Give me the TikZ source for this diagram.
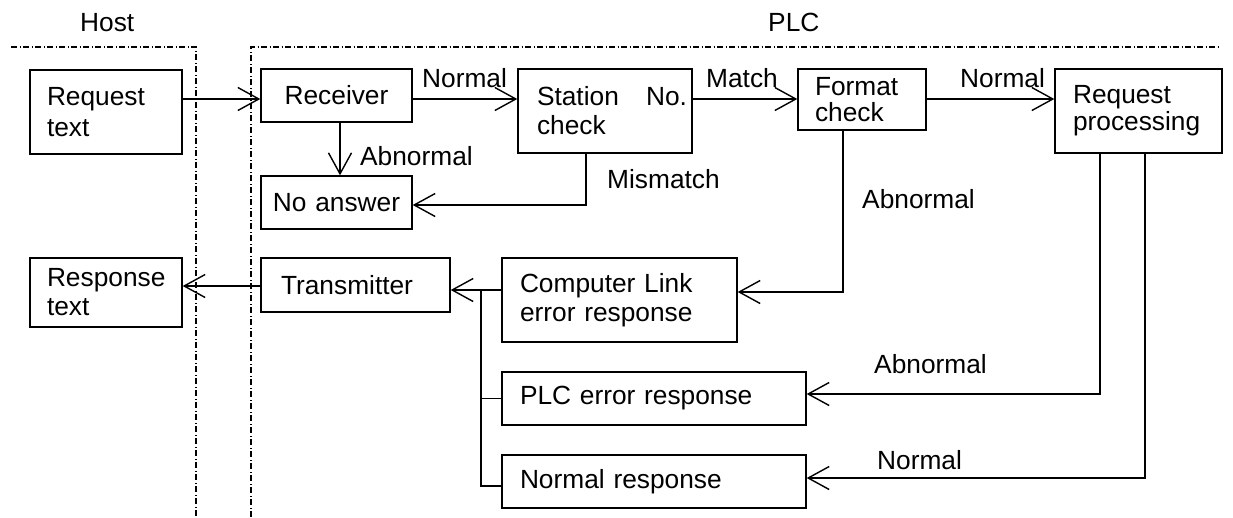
\documentclass[tikz,border=0pt]{standalone}
\usepackage{fontspec}
\setmainfont{Liberation Sans}
\usetikzlibrary{arrows.meta}
\begin{document}
\begin{tikzpicture}[x=1pt,y=-1pt,
  every node/.style={font=\fontsize{26.3}{29}\selectfont},
  box/.style={draw, line width=1.4pt, inner ysep=0pt, align=left},
  arr/.style={-{Straight Barb[length=21pt,width=23pt]}, line width=1.4pt},
  ln/.style={line width=1.4pt},
  sep/.style={line width=1.1pt, dash pattern=on 6pt off 2.5pt on 1pt off 2.5pt},
  lbl/.style={anchor=base west, inner sep=0pt}]
\useasboundingbox (0,0) rectangle (1233,517);
% separators
\coordinate (h1) at (11,47);
\coordinate (h2) at (196,47);
\coordinate (h3) at (196,517);
\coordinate (p1) at (251,517);
\coordinate (p2) at (251,47);
\coordinate (p3) at (1218,47);
\draw[sep] (h1) -- (h2) -- (h3);
\draw[sep] (p1) -- (p2) -- (p3);
\node[lbl] (host) at (80,31) {Host};
\node[lbl] (plc) at (768,31) {PLC};
% boxes
\node[box, inner xsep=17pt, text width=118pt, minimum height=84pt, font=\fontsize{26.3}{31}\selectfont] (req) at (106,112) {Request\\text};
\node[box, inner xsep=17pt, text width=118pt, minimum height=69pt] (resp) at (106,292.5) {Response\\text};
\node[box, inner xsep=0pt, text width=151pt, align=center, minimum height=53pt] (recv) at (336.5,95.5) {Receiver};
\node[box, inner xsep=0pt, text width=151pt, align=center, minimum height=53pt] (noans) at (336.5,202.5) {No answer};
\node[box, inner xsep=19pt, text width=136pt, minimum height=84pt] (stat) at (605,111) {\hbox to 150pt{Station\hfill No.}\\check};
\node[box, inner xsep=17pt, text width=94pt, minimum height=61pt, font=\fontsize{26.3}{26}\selectfont] (fmt) at (862,99.5) {Format\\check};
\node[box, inner xsep=18pt, text width=131pt, minimum height=84pt, font=\fontsize{26.3}{27}\selectfont] (proc) at (1138.5,111) {Request\\processing};
\node[box, inner xsep=20pt, text width=149pt, minimum height=54pt] (xmit) at (355.5,285) {Transmitter};
\node[box, inner xsep=18pt, text width=199pt, minimum height=84pt] (cle) at (619.5,300) {Computer Link\\error response};
\node[box, inner xsep=18pt, text width=268pt, minimum height=53pt] (plce) at (654,398.5) {PLC error response};
\node[box, inner xsep=18pt, text width=268pt, minimum height=53pt] (normr) at (654,481.5) {Normal response};
% connectors
\coordinate (y99) at (0,99);
\draw[arr] (req.east |- y99) -- (recv.west |- y99);
\draw[arr] (recv.east |- y99) -- (stat.west |- y99);
\draw[arr] (stat.east |- y99) -- (fmt.west |- y99);
\draw[arr] (fmt.east |- y99) -- (proc.west |- y99);
\coordinate (x340) at (340,0);
\draw[arr] (recv.south -| x340) -- (noans.north -| x340);
\coordinate (mm) at (586,205);
\draw[arr] (stat.south -| mm) |- (noans.east |- mm);
\coordinate (fa) at (843,292);
\draw[arr] (fmt.south -| fa) |- (cle.east |- fa);
\coordinate (pa) at (1100,394);
\draw[arr] (proc.south -| pa) |- (plce.east |- pa);
\coordinate (pn) at (1145,478);
\draw[arr] (proc.south -| pn) |- (normr.east |- pn);
\coordinate (ty) at (0,290);
\draw[arr] (cle.west |- ty) -- (xmit.east |- ty);
\coordinate (bus) at (481,290);
\coordinate (busb) at (481,486);
\draw[ln] (bus) -- (busb) -- (normr.west |- busb);
\draw[ln] (bus |- plce.west) -- (plce.west);
\coordinate (ry) at (0,286);
\draw[arr] (xmit.west |- ry) -- (resp.east |- ry);
% labels
\node[lbl] (l1) at (422,87) {Normal};
\node[lbl] (l2) at (706,87) {Match};
\node[lbl] (l3) at (960,87) {Normal};
\node[lbl] (l4) at (360,165) {Abnormal};
\node[lbl] (l5) at (607,188) {Mismatch};
\node[lbl] (l6) at (862,208) {Abnormal};
\node[lbl] (l7) at (874,373) {Abnormal};
\node[lbl] (l8) at (877,469) {Normal};
\end{tikzpicture}
\end{document}
